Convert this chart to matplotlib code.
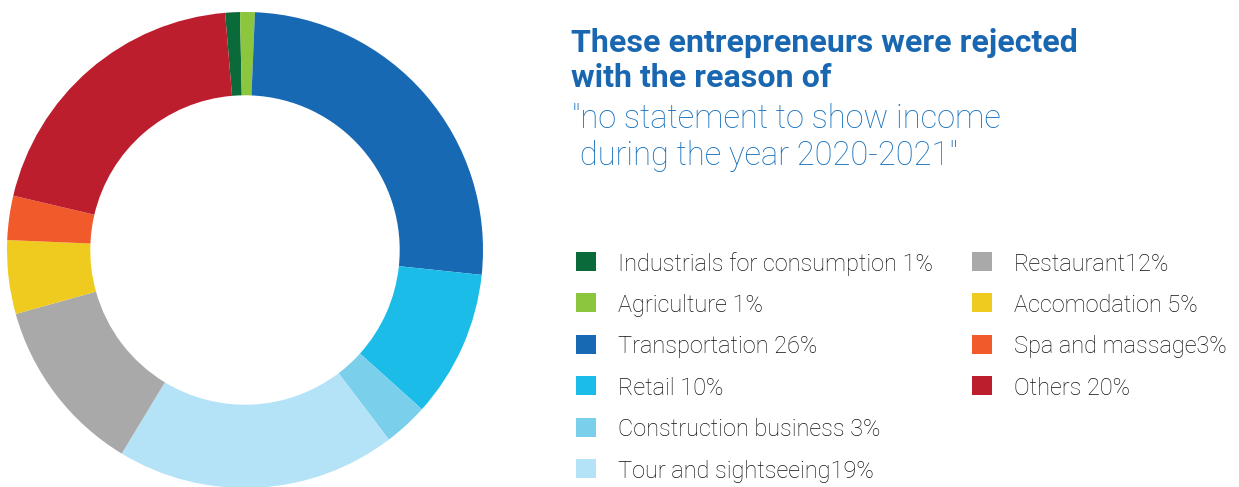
import matplotlib
matplotlib.use("Agg")
import matplotlib.pyplot as plt
from matplotlib.patches import Rectangle

plt.rcParams['font.family'] = ['Roboto', 'DejaVu Sans']

# Share of rejected entrepreneurs by business sector (%)
categories = [
    "Industrials for consumption", "Agriculture", "Transportation", "Retail",
    "Construction business", "Tour and sightseeing", "Restaurant",
    "Accomodation", "Spa and massage", "Others",
]
shares = [1, 1, 26, 10, 3, 19, 12, 5, 3, 20]
legend_labels = [
    "Industrials for consumption 1%", "Agriculture 1%", "Transportation 26%",
    "Retail 10%", "Construction business 3%", "Tour and sightseeing19%",
    "Restaurant12%", "Accomodation 5%", "Spa and massage3%", "Others 20%",
]
colors = [
    "#0b6a3a", "#8cc63f", "#1769b3", "#1bbde8", "#7ad0ea",
    "#b4e2f7", "#a9a9a9", "#f0cb1f", "#f15a2b", "#bd1e2e",
]

title_lines = ["These entrepreneurs were rejected", "with the reason of"]
subtitle_lines = ['"no statement to show income', ' during the year 2020-2021"']

W, H = 1239, 487
fig = plt.figure(figsize=(W / 100, H / 100), dpi=100)

# Donut chart
cx, cy, r = 245, 250, 238
ax = fig.add_axes([(cx - r) / W, (H - cy - r) / H, 2 * r / W, 2 * r / H])
ax.pie(shares, colors=colors, startangle=94.8, counterclock=False, radius=1,
       wedgeprops=dict(width=0.35, edgecolor="none"))
ax.set_xlim(-1, 1)
ax.set_ylim(-1, 1)
ax.set_aspect("equal")
ax.axis("off")

# Heading
for text, ybase in zip(title_lines, [51.5, 87]):
    fig.text(571 / W, 1 - ybase / H, text, fontsize=23.1, fontweight="bold",
             color="#1a67b1", va="baseline", ha="left")
for text, ybase in zip(subtitle_lines, [128.5, 164.5]):
    fig.text(572 / W, 1 - ybase / H, text, fontsize=23.5, fontweight="light",
             color="#1570bc", va="baseline", ha="left")

# Legend in two columns
col_x = [576, 972]
text_dx = 42
row_base = [271, 312, 353.5, 395, 436.5, 478]
per_col = 6
for i, (lab, col) in enumerate(zip(legend_labels, colors)):
    c, rr = divmod(i, per_col)
    x0 = col_x[c]
    yb = row_base[rr]
    fig.patches.append(Rectangle((x0 / W, 1 - yb / H), 20 / W, 19 / H,
                                 transform=fig.transFigure, facecolor=col,
                                 edgecolor="none"))
    fig.text((x0 + text_dx) / W, 1 - yb / H, lab, fontsize=16.9,
             fontweight="light", color="#111111", va="baseline", ha="left")

fig.savefig("out.png", dpi=100)
